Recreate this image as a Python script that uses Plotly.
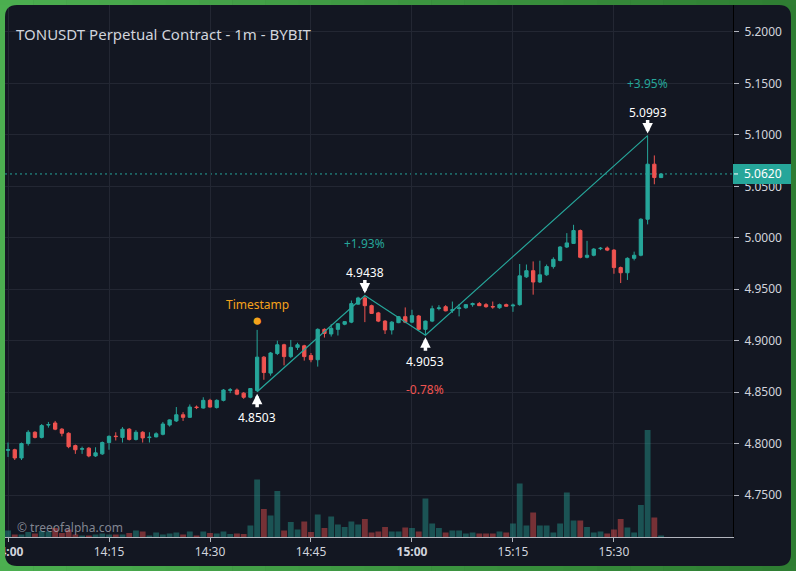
import pandas as pd
import plotly.graph_objects as go

# 1m candles, TONUSDT perp on Bybit, starting 14:00
opens = [4.7935, 4.794, 4.786, 4.800, 4.811, 4.806, 4.8180, 4.820, 4.814, 4.810,
         4.798, 4.7945, 4.7955, 4.788, 4.790, 4.801, 4.8072, 4.806, 4.814, 4.804,
         4.811, 4.8058, 4.8065, 4.809, 4.818, 4.822, 4.828, 4.8255, 4.8355, 4.8345,
         4.842, 4.835, 4.842, 4.8518, 4.852, 4.849, 4.845, 4.8515, 4.884, 4.8685,
         4.8875, 4.896, 4.8845, 4.8935, 4.895, 4.8855, 4.8815, 4.911, 4.9065, 4.911,
         4.916, 4.918, 4.9355, 4.9415, 4.934, 4.927, 4.919, 4.9104, 4.9175, 4.9233,
         4.918, 4.924, 4.911, 4.919, 4.9312, 4.933, 4.9292, 4.9312, 4.932, 4.935,
         4.936, 4.935, 4.9332, 4.932, 4.935, 4.9338, 4.935, 4.962, 4.968, 4.957,
         4.964, 4.972, 4.978, 4.991, 4.9945, 5.007, 4.981, 4.983, 4.9894, 4.990,
         4.988, 4.971, 4.966, 4.980, 4.983, 5.018, 5.0715, 5.0585]
highs = [4.801, 4.795, 4.801, 4.813, 4.812, 4.819, 4.821, 4.822, 4.815, 4.811,
         4.799, 4.797, 4.7965, 4.7964, 4.802, 4.808, 4.811, 4.816, 4.815, 4.813,
         4.812, 4.811, 4.811, 4.821, 4.8235, 4.8355, 4.8305, 4.838, 4.837, 4.845,
         4.8435, 4.843, 4.853, 4.854, 4.8535, 4.850, 4.854, 4.9105, 4.885, 4.889,
         4.900, 4.897, 4.9007, 4.898, 4.896, 4.888, 4.912, 4.912, 4.916, 4.917,
         4.919, 4.939, 4.9427, 4.9438, 4.935, 4.928, 4.920, 4.919, 4.924, 4.9323,
         4.930, 4.925, 4.9195, 4.934, 4.9345, 4.9345, 4.938, 4.9356, 4.9355, 4.937,
         4.9375, 4.9365, 4.938, 4.936, 4.936, 4.936, 4.9745, 4.974, 4.977, 4.9777,
         4.974, 4.981, 4.992, 5.0045, 5.0126, 5.008, 4.997, 4.990, 4.991, 4.9915,
         4.989, 4.972, 4.981, 4.9865, 5.019, 5.0993, 5.080, 5.0625]
lows = [4.787, 4.784, 4.784, 4.798, 4.805, 4.805, 4.8155, 4.813, 4.807, 4.7955,
        4.790, 4.790, 4.7867, 4.787, 4.789, 4.794, 4.803, 4.801, 4.803, 4.803,
        4.801, 4.801, 4.806, 4.808, 4.8165, 4.821, 4.822, 4.825, 4.8335, 4.834,
        4.835, 4.834, 4.841, 4.849, 4.847, 4.8435, 4.844, 4.8503, 4.862, 4.866,
        4.886, 4.876, 4.883, 4.891, 4.8806, 4.879, 4.8748, 4.903, 4.904, 4.905,
        4.915, 4.917, 4.935, 4.918, 4.926, 4.918, 4.9065, 4.906, 4.917, 4.917,
        4.917, 4.910, 4.9053, 4.918, 4.9295, 4.9285, 4.927, 4.9236, 4.931, 4.933,
        4.934, 4.932, 4.931, 4.931, 4.933, 4.928, 4.934, 4.961, 4.9447, 4.956,
        4.963, 4.970, 4.977, 4.990, 4.994, 4.980, 4.980, 4.982, 4.988, 4.987,
        4.965, 4.956, 4.959, 4.978, 4.982, 5.013, 5.052, 5.058]
closes = [4.794, 4.786, 4.800, 4.811, 4.806, 4.8175, 4.8184, 4.814, 4.810, 4.797,
          4.794, 4.795, 4.788, 4.791, 4.801, 4.807, 4.8068, 4.814, 4.804, 4.811,
          4.8055, 4.8062, 4.8095, 4.819, 4.823, 4.828, 4.8255, 4.8355, 4.835, 4.842,
          4.8355, 4.842, 4.852, 4.8522, 4.848, 4.845, 4.8535, 4.884, 4.869, 4.888,
          4.896, 4.8845, 4.8935, 4.896, 4.8845, 4.8815, 4.911, 4.907, 4.912, 4.9165,
          4.9185, 4.936, 4.9415, 4.934, 4.9265, 4.919, 4.9104, 4.918, 4.9233, 4.918,
          4.9243, 4.911, 4.919, 4.931, 4.9318, 4.929, 4.9300, 4.9318, 4.935, 4.936,
          4.934, 4.933, 4.9328, 4.935, 4.9335, 4.9345, 4.963, 4.968, 4.957, 4.964,
          4.972, 4.979, 4.991, 4.995, 5.007, 4.981, 4.983, 4.989, 4.9898, 4.988,
          4.971, 4.966, 4.980, 4.983, 5.018, 5.0715, 5.0585, 5.062]
volumes = [13, 5, 5, 10, 7, 12, 11, 18, 8, 15, 5, 3, 3, 5, 7, 5, 5, 5, 8, 13,
           11, 3, 9, 5, 7, 9, 5, 11, 3, 11, 8, 7, 11, 6, 7, 6, 23, 115, 56, 43,
           92, 13, 30, 15, 31, 10, 45, 18, 41, 25, 20, 31, 25, 36, 9, 11, 20, 11, 11, 19,
           18, 11, 77, 27, 18, 9, 13, 13, 7, 9, 7, 7, 7, 11, 9, 27, 107, 23, 49, 23,
           23, 9, 27, 89, 33, 33, 20, 9, 11, 7, 15, 36, 19, 9, 64, 214, 39, 3]

times = pd.date_range("2024-06-14 14:00", periods=len(opens), freq="min")

tick_times = ["14:00", "14:15", "14:30", "14:45", "15:00", "15:15", "15:30"]
tick_labels = ["<b>14:00</b>", "14:15", "14:30", "14:45", "<b>15:00</b>", "15:15", "15:30"]

# zigzag swing points (candle index, price)
swing_idx = [37, 53, 62, 95]
swing_price = [4.8503, 4.9438, 4.9053, 5.0993]
last_price = 5.0620
timestamp_idx = 37

UP = "#26a69a"
DOWN = "#ef5350"
BG = "#131722"
TXT = "#d1d4dc"
ORANGE = "#f5a21b"
FRAME_L = (76, 175, 80)
FRAME_R = (46, 125, 50)

# plot area in pixels (for the frame / price tag)
L, R, T, B = 5, 733, 5, 537
W, H = R - L, B - T


def px(x):
    return (x - L) / W


def py(y):
    return (B - y) / H


def frame_color(x):
    f = min(max(x / 796, 0), 1)
    c = [round(a + (b - a) * f) for a, b in zip(FRAME_L, FRAME_R)]
    return f"rgb({c[0]},{c[1]},{c[2]})"


fig = go.Figure()

vol_colors = ["rgba(38,166,154,0.42)" if c >= o else "rgba(239,83,80,0.45)"
              for o, c in zip(opens, closes)]
fig.add_trace(go.Bar(x=times, y=volumes, marker_color=vol_colors, marker_line_width=0,
                     width=52000, yaxis="y2", hoverinfo="skip"))

fig.add_trace(go.Candlestick(
    x=times, open=opens, high=highs, low=lows, close=closes,
    increasing=dict(line=dict(color=UP, width=1), fillcolor=UP),
    decreasing=dict(line=dict(color=DOWN, width=1), fillcolor=DOWN),
    whiskerwidth=0,
))

fig.add_trace(go.Scatter(x=[times[i] for i in swing_idx], y=swing_price, mode="lines",
                         line=dict(color=UP, width=1.2), hoverinfo="skip"))

annotations = []
for k, (i, p) in enumerate(zip(swing_idx, swing_price)):
    is_high = k % 2 == 1
    sign = 1 if is_high else -1
    # white arrow pointing at the swing (tiny empty label so the shaft shows)
    annotations.append(dict(
        x=times[i], y=p, text="", showarrow=True, ax=0, ay=-16 * sign,
        arrowhead=2, arrowsize=0.6, arrowwidth=3.5, arrowcolor="white", standoff=2,
        font=dict(size=1), borderpad=0,
    ))
    annotations.append(dict(
        x=times[i], y=p, text=f"{p:.4f}", showarrow=False, yshift=23 if is_high else -26,
        font=dict(size=12, color="white"),
    ))
    if k > 0:
        chg = (p - swing_price[k - 1]) / swing_price[k - 1] * 100
        annotations.append(dict(
            x=times[i], y=p, text=f"{chg:+.2f}%", showarrow=False,
            yshift=52 if is_high else -54,
            font=dict(size=12, color=UP if chg > 0 else DOWN),
        ))

# timestamp marker
annotations.append(dict(x=times[timestamp_idx], y=highs[timestamp_idx], text="●", showarrow=False,
                        yshift=10, font=dict(size=17, color=ORANGE)))
annotations.append(dict(x=times[timestamp_idx], y=highs[timestamp_idx], text="Timestamp",
                        showarrow=False, yshift=25, font=dict(size=12, color=ORANGE)))

annotations.append(dict(xref="paper", yref="paper", x=px(14), y=py(34), xanchor="left",
                        yanchor="middle", text="TONUSDT Perpetual Contract - 1m - BYBIT",
                        showarrow=False, font=dict(size=15, color=TXT)))
annotations.append(dict(xref="paper", yref="paper", x=px(15), y=py(527), xanchor="left",
                        yanchor="middle", text="© treeofalpha.com", showarrow=False,
                        font=dict(size=12, color="rgba(180,184,194,0.7)")))
annotations.append(dict(xref="paper", yref="y", x=px(763), y=last_price, xanchor="center",
                        yanchor="middle", text=f"{last_price:.4f}", showarrow=False,
                        font=dict(size=12, color="white")))

shapes = [
    dict(type="line", xref="paper", yref="y", x0=0, x1=1, y0=last_price, y1=last_price,
         line=dict(color=UP, width=1, dash="2px,3px"), layer="below"),
    dict(type="rect", xref="paper", yref="y", x0=1, x1=px(791), ysizemode="pixel",
         yanchor=last_price, y0=-10, y1=10, fillcolor=UP, line_width=0, layer="above"),
    dict(type="line", xref="paper", yref="y", x0=px(734), x1=px(738), y0=last_price, y1=last_price,
         line=dict(color="white", width=1), layer="above"),
]

# green rounded frame, shading from left to right
r = 12
shapes.append(dict(type="rect", xref="paper", yref="paper", x0=px(-20), x1=px(5), y0=py(0),
                   y1=py(571), fillcolor=frame_color(0), line_width=0, layer="above"))
shapes.append(dict(type="rect", xref="paper", yref="paper", x0=px(791), x1=px(796), y0=py(0),
                   y1=py(571), fillcolor=frame_color(796), line_width=0, layer="above"))
n_seg = 24
for s in range(n_seg):
    x0 = 796 * s / n_seg
    x1 = 796 * (s + 1) / n_seg + 0.6
    for y0, y1 in [(0, 5), (566, 571)]:
        shapes.append(dict(type="rect", xref="paper", yref="paper", x0=px(x0), x1=px(x1),
                           y0=py(y0), y1=py(y1), fillcolor=frame_color((x0 + x1) / 2),
                           line_width=0, layer="above"))
corners = [(5, 5, 1, 1), (791, 5, -1, 1), (791, 566, -1, -1), (5, 566, 1, -1)]
for cx, cy, sx, sy in corners:
    path = (f"M {px(cx)},{py(cy)} L {px(cx + sx * r)},{py(cy)} "
            f"Q {px(cx)},{py(cy)} {px(cx)},{py(cy + sy * r)} Z")
    shapes.append(dict(type="path", xref="paper", yref="paper", path=path,
                       fillcolor=frame_color(cx), line_width=0, layer="above"))

x_lo = pd.Timestamp("2024-06-14 13:59:33")
x_hi = pd.Timestamp("2024-06-14 15:47:41")

fig.update_layout(
    width=796, height=571,
    margin=dict(l=L, r=796 - R, t=T, b=571 - B, autoexpand=False),
    paper_bgcolor=BG, plot_bgcolor="rgba(0,0,0,0)",
    font=dict(family="Noto Sans, sans-serif", size=12, color=TXT),
    showlegend=False,
    annotations=annotations,
    shapes=shapes,
    xaxis=dict(
        range=[x_lo, x_hi], rangeslider=dict(visible=False),
        tickvals=[pd.Timestamp(f"2024-06-14 {t}") for t in tick_times], ticktext=tick_labels,
        showgrid=True, gridcolor="#232733", gridwidth=1,
        showline=True, linecolor="#b2b5be", linewidth=1,
        ticks="outside", ticklen=4, tickcolor="#b2b5be", ticklabeloverflow="allow",
        tickfont=dict(size=12, color=TXT), zeroline=False,
    ),
    yaxis=dict(
        side="right", range=[4.7092, 5.2262], dtick=0.05, tick0=4.75, tickformat=".4f",
        showgrid=True, gridcolor="#232733", gridwidth=1,
        showline=True, linecolor="black", linewidth=1,
        ticks="outside", ticklen=5, tickcolor="#b2b5be", ticklabelstandoff=3,
        tickfont=dict(size=12, color=TXT), zeroline=False,
    ),
    yaxis2=dict(overlaying="y", range=[0, 1064], visible=False, fixedrange=True),
)

fig.write_html("out.html", config={"displayModeBar": False},
               post_script="document.body.style.margin = '0';")
